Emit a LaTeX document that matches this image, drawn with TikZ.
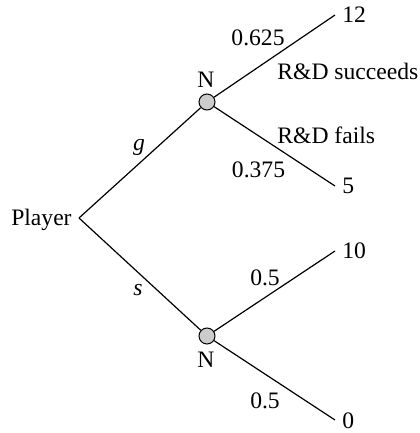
\documentclass[tikz,border=0pt]{standalone}
\usepackage{fontspec}
\setmainfont{Liberation Serif}
\begin{document}
\begin{tikzpicture}[x=0.5pt,y=-0.5pt,
  every node/.style={inner sep=0pt, font=\fontsize{11.8}{14}\selectfont},
  chance/.style={circle, draw=black, fill=black!20, line width=0.5pt, minimum size=8pt},
  branch/.style={line width=0.6pt, draw=black},
  lbl/.style={anchor=base},
  leaflbl/.style={anchor=base west}]
\useasboundingbox (0,0) rectangle (419,433);
% decision / chance nodes
\coordinate (root) at (79,218);
\node[chance] (n1) at (207,102) {};
\node[chance] (n2) at (207,336) {};
% leaf end points
\coordinate (l1) at (335,15);
\coordinate (l2) at (335,186);
\coordinate (l3) at (335,251);
\coordinate (l4) at (335,420);
% branches
\draw[branch] (root) -- (n1);
\draw[branch] (root) -- (n2);
\draw[branch] (n1) -- (l1);
\draw[branch] (n1) -- (l2);
\draw[branch] (n2) -- (l3);
\draw[branch] (n2) -- (l4);
% texts
\node[anchor=base east] (player) at (72,225) {Player};
\node[lbl] (g) at (139,150) {\textit{g}};
\node[lbl] (s) at (138,295) {\textit{s}};
\node[lbl] (N1) at (206,88) {N};
\node[lbl] (N2) at (206,367) {N};
\node[lbl] (p1) at (258,46) {0.625};
\node[lbl] (p2) at (258.5,177) {0.375};
\node[lbl] (p3) at (265,285) {0.5};
\node[lbl] (p4) at (265,408) {0.5};
\node[leaflbl] (succ) at (277,80) {R\&D succeeds};
\node[leaflbl] (fail) at (277,143) {R\&D fails};
\node[leaflbl] (v1) at (342,23) {12};
\node[leaflbl] (v2) at (342,193) {5};
\node[leaflbl] (v3) at (342,258) {10};
\node[leaflbl] (v4) at (342,428) {0};
\end{tikzpicture}
\end{document}
